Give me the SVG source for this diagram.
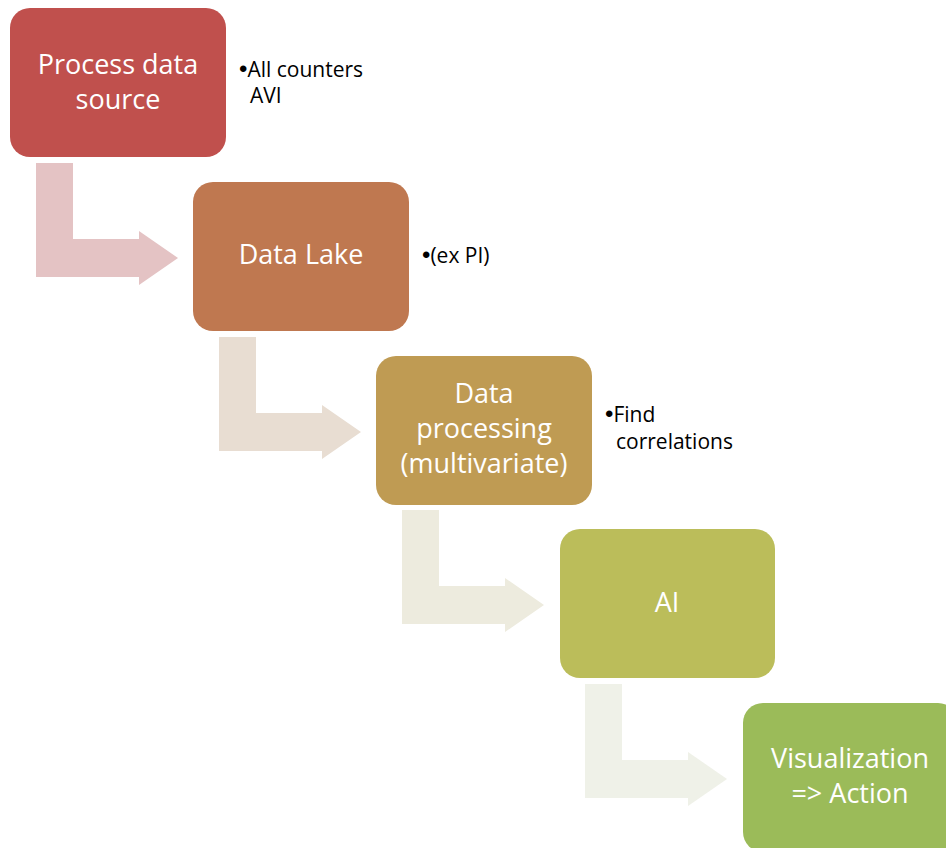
<svg xmlns="http://www.w3.org/2000/svg" width="946" height="848" viewBox="0 0 946 848">
<style>
.box-t{font-family:"Open Sans","Noto Sans","Liberation Sans",sans-serif;font-size:27px;fill:#ffffff;text-anchor:middle}
.side{font-family:"Open Sans","Noto Sans","Liberation Sans",sans-serif;font-size:21px;fill:#000000}
.bul{font-family:"Liberation Sans",sans-serif;font-size:24px}
</style>
<defs>
<path id="arr" d="M0,0 L37,0 L37,76 L103,76 L103,68 L142,95 L103,122 L103,114 L0,114 Z"/>
</defs>
<rect width="946" height="848" fill="#ffffff"/>
<g id="connectors">
<use href="#arr" x="36" y="163" fill="#E4C3C4"/>
<use href="#arr" x="219" y="337" fill="#E8DDD2"/>
<use href="#arr" x="402" y="510" fill="#EDEBDE"/>
<use href="#arr" x="585" y="684" fill="#EFF1E8"/>
</g>
<g id="node1">
<rect x="10" y="8" width="216" height="149" rx="20" fill="#C0504D"/>
<text class="box-t" x="118" y="74">Process data</text>
<text class="box-t" x="118" y="109">source</text>
<text class="side" x="239" y="77"><tspan class="bul">•</tspan>All counters</text>
<text class="side" x="250" y="103">AVI</text>
</g>
<g id="node2">
<rect x="193" y="182" width="216" height="149" rx="20" fill="#BF7850"/>
<text class="box-t" x="301" y="264">Data Lake</text>
<text class="side" x="422" y="263"><tspan class="bul">•</tspan>(ex PI)</text>
</g>
<g id="node3">
<rect x="376" y="356" width="216" height="149" rx="20" fill="#BF9B53"/>
<text class="box-t" x="484" y="403">Data</text>
<text class="box-t" x="484" y="438">processing</text>
<text class="box-t" x="484" y="473">(multivariate)</text>
<text class="side" x="605" y="422"><tspan class="bul">•</tspan>Find</text>
<text class="side" x="616" y="449">correlations</text>
</g>
<g id="node4">
<rect x="560" y="529" width="215" height="149" rx="20" fill="#BBBD5A"/>
<text class="box-t" x="667" y="612">AI</text>
</g>
<g id="node5">
<rect x="743" y="703" width="215" height="149" rx="20" fill="#9BBB59"/>
<text class="box-t" x="850" y="768">Visualization</text>
<text class="box-t" x="850" y="803">=&gt; Action</text>
</g>
</svg>
